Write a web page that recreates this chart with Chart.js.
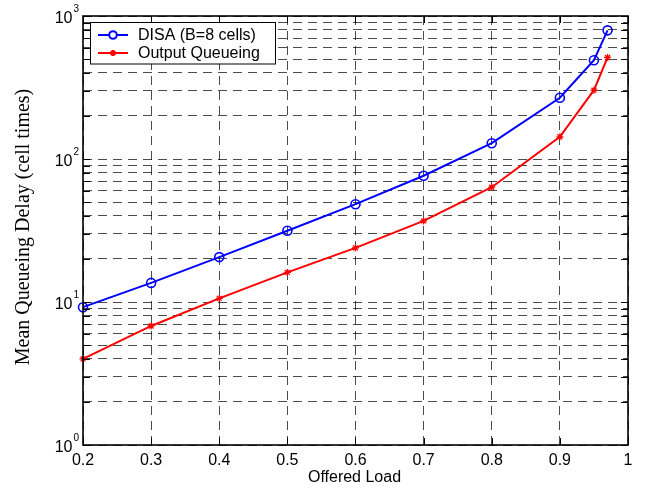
<!DOCTYPE html>
<html>
<head>
<meta charset="utf-8">
<title>Mean Queueing Delay vs Offered Load</title>
<script src="https://cdn.jsdelivr.net/npm/chart.js@4/dist/chart.umd.min.js"></script>
<style>
  html, body { margin: 0; padding: 0; background: #fff; }
  #wrap { width: 647px; height: 492px; }
</style>
</head>
<body>
<div id="wrap"><canvas id="chartDelay" width="647" height="492"></canvas></div>
<script>
(function () {
    'use strict';

    // offered load values (x)
    const loads = [0.2, 0.3, 0.4, 0.5, 0.6, 0.7, 0.8, 0.9, 0.95, 0.97];
    // mean queueing delay in cell times
    const disaDelay   = [9.2, 13.6, 20.6, 31.5, 48.3, 76.4, 129, 268, 491, 794];
    const outputDelay = [4.0, 6.8, 10.6, 16.1, 23.9, 36.9, 63.5, 143, 303, 513];

    const seriesNames = ['DISA (B=8 cells)', 'Output Queueing'];
    const xTicks = [0.2, 0.3, 0.4, 0.5, 0.6, 0.7, 0.8, 0.9, 1];
    const yDecades = [1, 10, 100, 1000];
    const yExponents = ['0', '1', '2', '3'];
    const xTitle = 'Offered Load';
    const yTitle = 'Mean Queueing Delay (cell times)';

    const BLUE = '#0000ff';
    const RED  = '#ff0000';
    const SANS = '"Liberation Sans", Arial, Helvetica, sans-serif';
    const SERIF = '"Liberation Serif", "Times New Roman", serif';

    // every decade plus 2..9 in between, for the log grid
    const yGrid = [];
    yDecades.forEach((d, i) => {
        if (i === yDecades.length - 1) { yGrid.push(d); return; }
        for (let k = 1; k < 10; k++) yGrid.push(d * k);
    });

    function toPoints(ys) {
        return loads.map((x, i) => ({ x: x, y: ys[i] }));
    }

    // frame, inside ticks, tick labels, titles and legend (MATLAB look)
    const matlabAxes = {
        id: 'matlabAxes',
        beforeDraw(chart) {
            const ctx = chart.ctx;
            ctx.save();
            ctx.fillStyle = '#fff';
            ctx.fillRect(0, 0, chart.width, chart.height);
            ctx.restore();
        },
        afterDatasetsDraw(chart) {
            const ctx = chart.ctx;
            const a = chart.chartArea;
            const xs = chart.scales.x;
            const ys = chart.scales.y;
            const tl = 7;

            ctx.save();
            ctx.strokeStyle = '#000';
            ctx.lineWidth = 1;
            ctx.beginPath();
            xTicks.forEach(v => {
                const px = Math.round(xs.getPixelForValue(v)) + 0.5;
                ctx.moveTo(px, a.bottom); ctx.lineTo(px, a.bottom - tl);
                ctx.moveTo(px, a.top); ctx.lineTo(px, a.top + tl);
            });
            yGrid.forEach(v => {
                const py = Math.round(ys.getPixelForValue(v)) + 0.5;
                ctx.moveTo(a.left, py); ctx.lineTo(a.left + tl, py);
                ctx.moveTo(a.right, py); ctx.lineTo(a.right - tl, py);
            });
            ctx.stroke();

            ctx.lineWidth = 1.6;
            ctx.strokeRect(a.left, a.top, a.right - a.left, a.bottom - a.top);

            // x tick labels
            ctx.fillStyle = '#000';
            ctx.font = '16px ' + SANS;
            ctx.textAlign = 'center';
            ctx.textBaseline = 'alphabetic';
            xTicks.forEach(v => {
                ctx.fillText(String(v), xs.getPixelForValue(v), a.bottom + 20);
            });

            // y tick labels 10^n
            yDecades.forEach((v, i) => {
                const py = ys.getPixelForValue(v);
                ctx.font = '16px ' + SANS;
                ctx.textAlign = 'right';
                ctx.fillText('10', 72.5, py + 6.5);
                ctx.font = '10px ' + SANS;
                ctx.textAlign = 'left';
                ctx.fillText(yExponents[i], 73.5, py - 4.5);
            });

            // axis titles
            ctx.font = '16px ' + SANS;
            ctx.textAlign = 'center';
            ctx.fillText(xTitle, (a.left + a.right) / 2 - 1, a.bottom + 37);

            ctx.save();
            ctx.translate(28.5, 227);
            ctx.rotate(-Math.PI / 2);
            ctx.font = '20px ' + SERIF;
            ctx.textAlign = 'center';
            ctx.fillText(yTitle, 0, 0);
            ctx.restore();

            // legend box
            const lx = 90.5, ly = 22.5, lw = 185, lh = 41.5;
            ctx.fillStyle = '#fff';
            ctx.fillRect(lx, ly, lw, lh);
            ctx.strokeStyle = '#000';
            ctx.lineWidth = 1;
            ctx.strokeRect(lx, ly, lw, lh);

            const rows = [
                { color: BLUE, y: 35, marker: 'circle', r: 3.8 },
                { color: RED, y: 53, marker: 'star', r: 3 }
            ];
            rows.forEach((r, i) => {
                ctx.strokeStyle = r.color;
                ctx.lineWidth = 2;
                ctx.beginPath();
                ctx.moveTo(98, r.y); ctx.lineTo(128, r.y);
                ctx.stroke();
                const ds = chart.data.datasets[i];
                Chart.helpers.drawPoint(ctx, {
                    pointStyle: r.marker,
                    radius: r.r,
                    borderWidth: ds.pointBorderWidth,
                    rotation: 0
                }, 113, r.y);
                ctx.fillStyle = '#000';
                ctx.font = '16px ' + SANS;
                ctx.textAlign = 'left';
                ctx.textBaseline = 'middle';
                ctx.fillText(seriesNames[i], 138, r.y + 1);
                ctx.textBaseline = 'alphabetic';
            });
            ctx.restore();
        }
    };

    const gridStyle = {
        grid: { color: 'rgba(0,0,0,0.7)', lineWidth: 1, drawTicks: false },
        border: { display: false, dash: [9, 6] }
    };

    new Chart(document.getElementById('chartDelay'), {
        type: 'line',
        data: {
            datasets: [{
                label: seriesNames[0],
                data: toPoints(disaDelay),
                borderColor: BLUE,
                backgroundColor: 'rgba(0,0,0,0)',
                borderWidth: 2,
                pointStyle: 'circle',
                pointRadius: 4.5,
                pointBorderWidth: 1.6,
                pointBorderColor: BLUE,
                pointBackgroundColor: 'rgba(0,0,0,0)',
                tension: 0,
                clip: false
            }, {
                label: seriesNames[1],
                data: toPoints(outputDelay),
                borderColor: RED,
                backgroundColor: 'rgba(0,0,0,0)',
                borderWidth: 2,
                pointStyle: 'star',
                pointRadius: 3.5,
                pointBorderWidth: 1.3,
                pointBorderColor: RED,
                pointBackgroundColor: 'rgba(0,0,0,0)',
                tension: 0,
                clip: false
            }]
        },
        options: {
            responsive: false,
            animation: false,
            devicePixelRatio: 1,
            layout: { padding: { left: 83, right: 19, top: 16, bottom: 47 } },
            plugins: {
                legend: { display: false },
                tooltip: { enabled: false }
            },
            scales: {
                x: Object.assign({
                    type: 'linear',
                    min: 0.2,
                    max: 1,
                    afterBuildTicks: s => { s.ticks = xTicks.map(v => ({ value: v })); },
                    ticks: { display: false }
                }, gridStyle),
                y: Object.assign({
                    type: 'logarithmic',
                    min: 1,
                    max: 1000,
                    afterBuildTicks: s => { s.ticks = yGrid.map(v => ({ value: v })); },
                    ticks: { display: false }
                }, gridStyle)
            }
        },
        plugins: [matlabAxes]
    });
})();
</script>
</body>
</html>
